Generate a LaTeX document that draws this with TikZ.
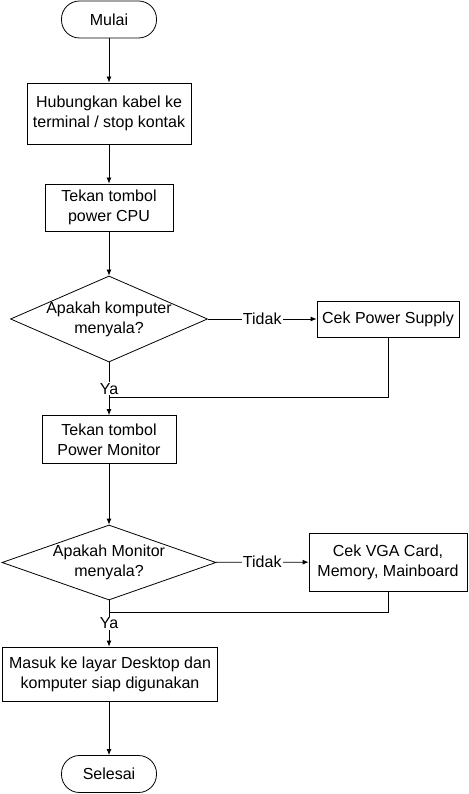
\documentclass[tikz,border=0pt]{standalone}
\usepackage{fontspec}
\setmainfont{Liberation Sans}
\usepackage{tikz}
\usetikzlibrary{arrows,arrows.meta,shapes}
\tikzstyle{terminal}=[draw,rectangle,rounded corners=18pt,minimum width=95pt,minimum height=37pt]
\tikzstyle{process}=[draw,rectangle,align=center,inner sep=0pt]
\tikzstyle{decision}=[draw,diamond,align=center,inner xsep=-6pt,inner ysep=-4pt]
\tikzstyle{flow} = [draw,->,>={Latex[length=6pt,width=5pt]}]

\begin{document}
\begin{tikzpicture}[x=1pt,y=-1pt,line width=0.8pt,font=\fontsize{16}{20}\selectfont]
        \tikzset{lbl/.style = {fill=white,inner sep=1pt}}
        \useasboundingbox (0,0) rectangle (468,794);
        \node[terminal] (mulai) at (109,19.5) {Mulai};
        \node[process,minimum width=164pt,minimum height=61pt] (kabel) at (109,113.5) {Hubungkan kabel ke\\terminal / stop kontak};
        \node[process,minimum width=128pt,minimum height=47pt] (tombolcpu) at (109,207.5) {Tekan tombol\\power CPU};
        \node[decision,aspect=2.29,minimum width=197pt,minimum height=86pt] (nyala) at (109,319) {Apakah komputer\\menyala?};
        \node[process,minimum width=142pt,minimum height=36pt] (psu) at (388,319) {Cek Power Supply};
        \node[process,minimum width=134pt,minimum height=48pt] (tombolmon) at (109,439.5) {Tekan tombol\\Power Monitor};
        \node[decision,aspect=2.85,minimum width=214pt,minimum height=75pt] (monitor) at (109,562.5) {Apakah Monitor\\menyala?};
        \node[process,minimum width=158pt,minimum height=58pt] (vga) at (388,562) {Cek VGA Card,\\Memory, Mainboard};
        \node[process,minimum width=215pt,minimum height=54pt] (desktop) at (110,674) {Masuk ke layar Desktop dan\\komputer siap digunakan};
        \node[terminal] (selesai) at (109,774) {Selesai};
        \coordinate (balik1) at (109,397);
        \coordinate (balik2) at (109,612);
        \draw[flow] (mulai) to (kabel);
        \draw[flow] (kabel) to (tombolcpu);
        \draw[flow] (tombolcpu) to (nyala);
        \draw[flow] (nyala) -- node[lbl] {Tidak} (psu);
        \draw[flow] (nyala) -- node[lbl] {Ya} (tombolmon);
        \draw (psu) |- (balik1);
        \draw[flow] (tombolmon) to (monitor);
        \draw[flow] (monitor) -- node[lbl] {Tidak} (vga);
        \draw[flow] (monitor) -- node[lbl] {Ya} (desktop.north -| monitor.south);
        \draw (vga) |- (balik2);
        \draw[flow] (desktop.south -| selesai.north) to (selesai);
      \end{tikzpicture}
\end{document}
